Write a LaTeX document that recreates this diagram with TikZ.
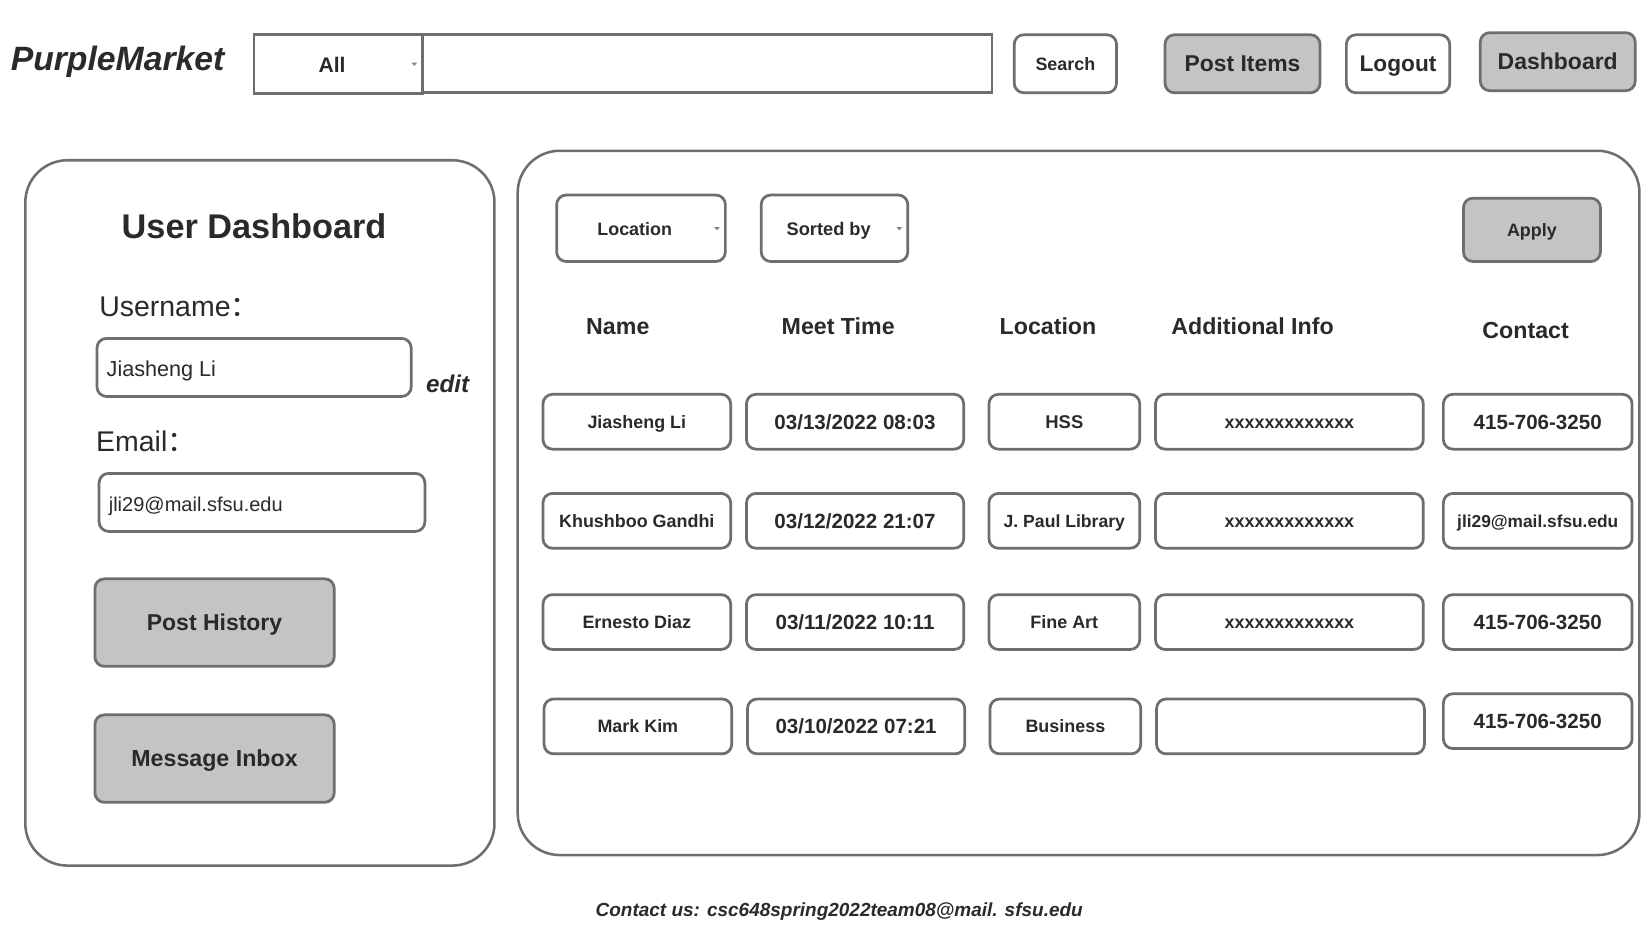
\documentclass[tikz,border=0pt]{standalone}
\usepackage{fontspec}
\setmainfont{Liberation Sans}
\newfontfamily\cjkfont{Noto Sans CJK SC}
\definecolor{bd}{HTML}{6E6E6E}
\definecolor{fillg}{HTML}{C5C3C3}
\definecolor{txt}{HTML}{2A2A2A}
\newcommand\setfs[1]{\fontsize{#1}{#1}\selectfont}
\begin{document}
\begin{tikzpicture}[x=1pt,y=-1pt,
  th/.style={/utils/exec={\pgfmathsetlengthmacro\mythh{0.716*#1}}, text height=\mythh, text depth=0pt},
  fr/.style={font=\setfs{#1}, th={#1}},
  fb/.style={font=\bfseries\setfs{#1}, th={#1}},
  fbi/.style={font=\bfseries\itshape\setfs{#1}, th={#1}},
  box/.style={draw=bd, line width=2.6pt, rounded corners=9pt, fill=white, inner sep=0pt, text=txt, fb=17},
  gbox/.style={box, fill=fillg},
  sqbox/.style={box, rounded corners=0pt},
  panel/.style={draw=bd, line width=2.4pt, rounded corners=40pt, inner sep=0pt},
  lbl/.style={inner sep=0pt, text=txt},
  hdr/.style={lbl, fb=22},
  tri/.style={fill=bd!85, draw=none}
]
\useasboundingbox[fill=white] (0,0) rectangle (1565,880);

% ---------- top bar ----------
\node[lbl, anchor=west, fbi=32] (logo) at (10,55) {PurpleMarket};
\node[sqbox, minimum width=160pt, minimum height=56pt] (allbox) at (321,61) {};
\node[lbl, fb=20] (alltxt) at (315,62) {All};
\fill[tri] (390.5,59.5) -- (395.5,59.5) -- (393,62.5) -- cycle;
\node[sqbox, minimum width=540pt, minimum height=55pt] (field) at (671,60.5) {};
\node[box, minimum width=97pt, minimum height=55pt] (search) at (1010.5,60.5) {Search};
\node[gbox, minimum width=147pt, minimum height=55pt, fb=21.7] (post) at (1178.5,60.5) {Post Items};
\node[box, minimum width=98pt, minimum height=55pt, fb=21.5] (logout) at (1326,60.5) {Logout};
\node[gbox, minimum width=147pt, minimum height=55pt, fb=21.8] (dash) at (1477.5,58.5) {Dashboard};

% ---------- left panel ----------
\node[panel, minimum width=445pt, minimum height=669pt] (lpanel) at (246.5,486.5) {};
\node[lbl, fb=32.5] (udtitle) at (241,215) {User Dashboard};
\node[lbl, anchor=west, fr=27] (uname) at (94,291) {Username{\cjkfont ：}};
\node[box, minimum width=298pt, minimum height=55pt] (unamebox) at (241,348.5) {};
\node[lbl, anchor=west, fr=20.5] (unametxt) at (101,350) {Jiasheng Li};
\node[lbl, anchor=west, fbi=23] (edit) at (404,364) {edit};
\node[lbl, anchor=west, fr=27] (email) at (91,419) {Email{\cjkfont ：}};
\node[box, minimum width=309pt, minimum height=55pt] (emailbox) at (248.5,476.5) {};
\node[lbl, anchor=west, fr=19] (emailtxt) at (103,478) {jli29@mail.sfsu.edu};
\node[gbox, minimum width=227pt, minimum height=83pt, fb=21.8] (hist) at (203.5,590.5) {Post History};
\node[gbox, minimum width=227pt, minimum height=83pt, fb=22] (inbox) at (203.5,719.5) {Message Inbox};

% ---------- right panel ----------
\node[panel, minimum width=1064pt, minimum height=668pt] (rpanel) at (1023,477) {};
\node[box, minimum width=160pt, minimum height=63pt] (locdd) at (608,216.5) {};
\node[lbl, fb=17] (loctxt) at (602,217) {Location};
\fill[tri] (677.5,215.5) -- (682.5,215.5) -- (680,218.5) -- cycle;
\node[box, minimum width=139pt, minimum height=63pt] (sortdd) at (791.5,216.5) {};
\node[lbl, fb=17.3] (sorttxt) at (786,217) {Sorted by};
\fill[tri] (850.5,215.5) -- (855.5,215.5) -- (853,218.5) -- cycle;
\node[gbox, minimum width=130pt, minimum height=60pt] (apply) at (1453,218) {Apply};

\node[hdr] (hname) at (586,309) {Name};
\node[hdr] (htime) at (795,309) {Meet Time};
\node[hdr] (hloc) at (994,309) {Location};
\node[hdr] (hinfo) at (1188,309) {Additional Info};
\node[hdr] (hcont) at (1447,313) {Contact};

% row 1
\node[box, minimum width=178pt, minimum height=52pt] (n1) at (604,400) {Jiasheng Li};
\node[box, minimum width=206pt, minimum height=52pt, fb=19.5] (t1) at (811,400) {03/13/2022 08:03};
\node[box, minimum width=143pt, minimum height=52pt, fb=17.5] (l1) at (1009.5,400) {HSS};
\node[box, minimum width=254pt, minimum height=52pt] (i1) at (1223,400) {xxxxxxxxxxxxx};
\node[box, minimum width=179pt, minimum height=52pt, fb=19.5] (c1) at (1458.5,400) {415-706-3250};
% row 2
\node[box, minimum width=178pt, minimum height=52pt] (n2) at (604,494) {Khushboo Gandhi};
\node[box, minimum width=206pt, minimum height=52pt, fb=19.5] (t2) at (811,494) {03/12/2022 21:07};
\node[box, minimum width=143pt, minimum height=52pt, fb=16.7] (l2) at (1009.5,494) {J. Paul Library};
\node[box, minimum width=254pt, minimum height=52pt] (i2) at (1223,494) {xxxxxxxxxxxxx};
\node[box, minimum width=179pt, minimum height=52pt, fb=16.4] (c2) at (1458.5,494) {jli29@mail.sfsu.edu};
% row 3
\node[box, minimum width=178pt, minimum height=52pt] (n3) at (604,590) {Ernesto Diaz};
\node[box, minimum width=206pt, minimum height=52pt, fb=19.5] (t3) at (811,590) {03/11/2022 10:11};
\node[box, minimum width=143pt, minimum height=52pt] (l3) at (1009.5,590) {Fine Art};
\node[box, minimum width=254pt, minimum height=52pt] (i3) at (1223,590) {xxxxxxxxxxxxx};
\node[box, minimum width=179pt, minimum height=52pt, fb=19.5] (c3) at (1458.5,590) {415-706-3250};
% row 4
\node[box, minimum width=178pt, minimum height=52pt] (n4) at (605,689) {Mark Kim};
\node[box, minimum width=206pt, minimum height=52pt, fb=19.5] (t4) at (812,689) {03/10/2022 07:21};
\node[box, minimum width=143pt, minimum height=52pt] (l4) at (1010.5,689) {Business};
\node[box, minimum width=254pt, minimum height=52pt] (i4) at (1224,689) {};
\node[box, minimum width=179pt, minimum height=52pt, fb=19.5] (c4) at (1458.5,684) {415-706-3250};

% ---------- footer ----------
\node[lbl, fbi=18] (footer) at (796,863) {Contact us: csc648spring2022team08@mail. sfsu.edu};
\end{tikzpicture}
\end{document}
